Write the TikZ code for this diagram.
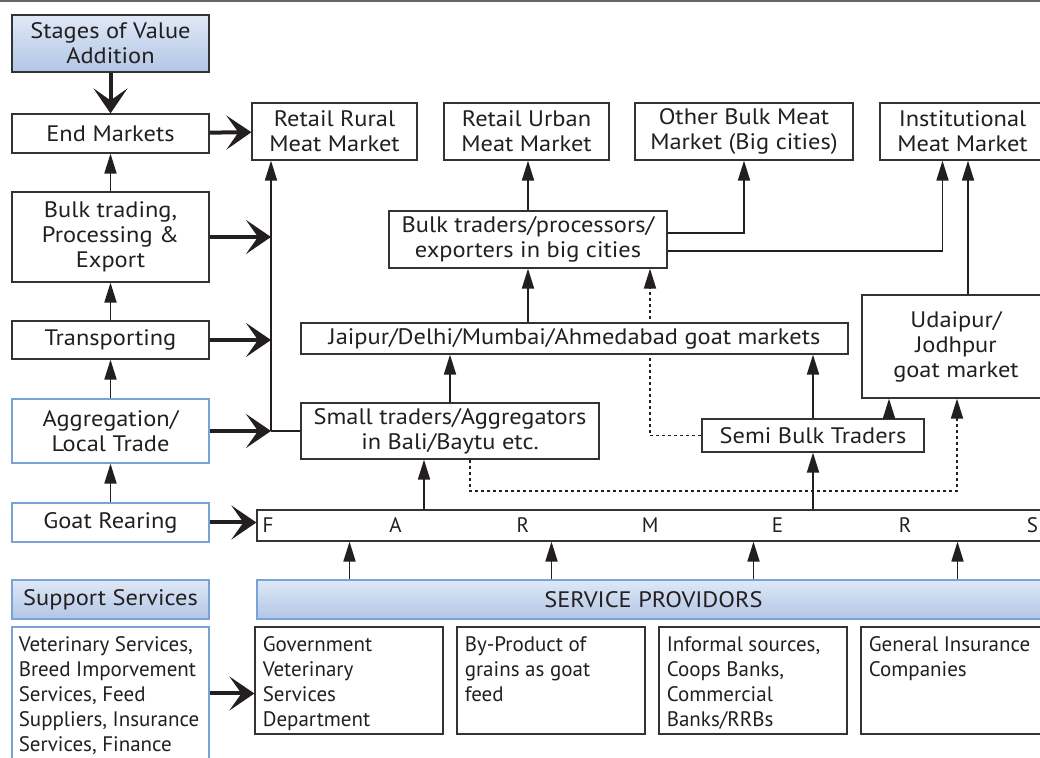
\documentclass[tikz,border=0pt]{standalone}
\usepackage{fontspec}
\setmainfont{PT Sans}
\newfontfamily\wfont{PT Sans}[FakeStretch=1.09]
\usetikzlibrary{arrows.meta,positioning,calc}
\definecolor{ink}{HTML}{231F20}
\definecolor{edge}{HTML}{333333}
\definecolor{bedge}{HTML}{7BA2D6}
\definecolor{btop}{HTML}{DFE8F6}
\definecolor{bbot}{HTML}{B2C6E6}
\tikzset{sz/.style 2 args={minimum width=#1*0.5pt,minimum height=#2*0.5pt},
 box/.style={draw=edge,line width=0.6pt,fill=white,inner sep=0pt,align=center,text=ink,
  font=\wfont\fontsize{11.2}{12.5}\selectfont},
 bbox/.style={box,draw=bedge},hdr/.style={box,top color=btop,bottom color=bbot},
 shdr/.style={hdr,draw=bedge},ptxt/.style={anchor=north west,inner sep=0pt,align=left,text=ink},
 flow/.style={-{Stealth[length=12.5pt,width=17pt,inset=6pt]},line width=2pt,draw=ink},
 link/.style={-{Triangle[length=10pt,width=6pt]},line width=0.9pt,draw=ink},
 dot/.style={link,dash pattern=on 1.5pt off 1.5pt}}

\begin{document}
\begin{tikzpicture}[x=0.5pt,y=-0.5pt,font=\fontsize{10.5}{12.5}\selectfont]
\useasboundingbox (0,0) rectangle (1040,758);
\clip (0,0) rectangle (1040,758);
\draw[edge!75,line width=1.2pt](0,1)--(1040,1);
% stages column
\node[hdr,sz={197}{57}](stg) at (110.5,43.5){Stages of Value\\Addition};
\node[box,sz={197}{39}](endm) at (110.5,133.5){End Markets};
\node[box,sz={197}{90}](bulk) at (110.5,237){Bulk trading,\\Processing \&\\Export};
\node[box,sz={197}{38}](trans) at (110.5,340){Transporting};
\node[bbox,sz={197}{64}](aggr) at (110.5,431){Aggregation/\\Local Trade};
\node[bbox,sz={197}{39}](rear) at (110.5,522.5){Goat Rearing};
\node[shdr,sz={197}{39}](supp) at (110.5,599.5){Support Services};
\node[bbox,sz={197}{133}](svc) at (110.5,693.5){};
\node[ptxt](svct) at ([shift={(3.5pt,-5pt)}]svc.north west){Veterinary Services,\\Breed Imporvement\\Services, Feed\\Suppliers, Insurance\\Services, Finance};
% markets
\node[box,sz={165}{57}](rural) at (334.5,131.5){Retail Rural\\Meat Market};
\node[box,sz={165}{57}](urban) at (526.5,131.5){Retail Urban\\Meat Market};
\node[box,sz={218}{57}](other) at (744,131.5){Other Bulk Meat\\Market (Big cities)};
\node[box,sz={165}{57}](inst) at (962.5,131.5){Institutional\\Meat Market};
\node[box,sz={278}{57}](bulkt) at (528,239.5){Bulk traders/processors/\\exporters in big cities};
\node[box,sz={188}{103}](udai) at (956,346.5){Udaipur/\\Jodhpur\\goat market};
\node[box,sz={298}{56}](small) at (450,431){Small traders/Aggregators\\in Bali/Baytu etc.};
\node[box,sz={222}{33}](semi) at (813,435.5){Semi Bulk Traders};
\draw[dot](semi.west)-|([xshift=61pt]bulkt.south);
\node[box,sz={547}{31}](jaipur) at (574.5,338.5){Jaipur/Delhi/Mumbai/Ahmedabad goat markets};
\node[box,sz={793}{31}](farm) at (653.5,525.5){};
\foreach \ch [count=\i from 0] in {F,A,R,M,E,R,S}
  \node[inner sep=0pt,text=ink](f\i) at (268+127.4*\i,525.5){\ch};
% providers
\node[shdr,sz={793}{39}](prov) at (653.5,599.5){SERVICE PROVIDORS};
\node[box,sz={188}{107}](gov) at (349,680.5){};
\node[box,sz={188}{107}](byp) at (551,680.5){};
\node[box,sz={188}{107}](inf) at (753,680.5){};
\node[box,sz={189}{107}](ins) at (955.5,680.5){};
\node[ptxt](govt) at ([shift={(4pt,-5pt)}]gov.north west){Government\\Veterinary\\Services\\Department};
\node[ptxt](bypt) at ([shift={(4pt,-5pt)}]byp.north west){By-Product of\\grains as goat\\feed};
\node[ptxt](inft) at ([shift={(4pt,-5pt)}]inf.north west){Informal sources,\\Coops Banks,\\Commercial\\Banks/RRBs};
\node[ptxt](inst2) at ([shift={(4pt,-5pt)}]ins.north west){General Insurance\\Companies};
% left column flows
\coordinate (trk) at (271,431);
\draw[flow](stg)--(endm);
\draw[link](bulk)--(endm);\draw[link](trans)--(bulk);
\draw[link](aggr)--(trans);\draw[link](rear)--(aggr);
\draw[flow](endm)--(rural);
\draw[flow](bulk.east)--(bulk.east-|trk);
\draw[flow](trans.east)--(trans.east-|trk);
\draw[flow](aggr.east)--(trk);
\draw[flow](rear)--(farm.west|-rear);
\draw[flow](svc.east)--(gov.west|-svc.east);
\draw[line width=0.9pt,draw=ink](small.west)--(trk);
\draw[link](trk)--(trk|-rural.south);
% trade chain
\draw[link](bulkt)--(bulkt|-urban.south);
\draw[link]([yshift=3.25pt]bulkt.east)-|(other.south);
\draw[link]([yshift=-5.75pt]bulkt.east)-|([xshift=-10pt]inst.south);
\draw[link]([xshift=6pt]udai.north)--([xshift=6pt]udai.north|-inst.south);
\draw[link](bulkt.south|-jaipur.north)--(bulkt.south);
\draw[link](small.north)--(small.north|-jaipur.south);
\draw[link]([xshift=-13pt]small.south|-farm.north)--([xshift=-13pt]small.south);
\draw[link](semi.south|-farm.north)--(semi.south);
\draw[link](semi.north)--(semi.north|-jaipur.south);
\draw[link]([xshift=38pt]semi.north)--([xshift=38pt]semi.north|-udai.south);
\coordinate (dl) at (957,491);
\draw[dot]([xshift=10pt]small.south)|-(dl)--(dl|-udai.south);
\foreach \dx in {-152,-51,50,152}
  \draw[link]([xshift=\dx pt]prov.north)--([xshift=\dx pt]prov.north|-farm.south);
\end{tikzpicture}
\end{document}
